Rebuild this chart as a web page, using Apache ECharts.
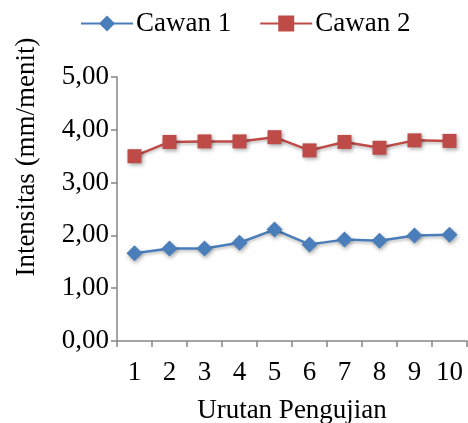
<!DOCTYPE html>
<html>
<head>
<meta charset="utf-8">
<script src="https://cdn.jsdelivr.net/npm/echarts@6/dist/echarts.min.js"></script>
<style>
  html, body { margin: 0; padding: 0; background: #fff; }
  #chart { width: 468px; height: 423px; }
</style>
</head>
<body>
<div id="chart"></div>
<script>
// data
var categories = ["1", "2", "3", "4", "5", "6", "7", "8", "9", "10"];
var cawan1 = [1.66, 1.75, 1.75, 1.86, 2.11, 1.83, 1.92, 1.90, 2.00, 2.01];
var cawan2 = [3.50, 3.77, 3.78, 3.78, 3.86, 3.61, 3.77, 3.66, 3.80, 3.79];
var yTicks = [0, 1, 2, 3, 4, 5];

(function() {
    var myChart = echarts.init(document.getElementById("chart"));
    var font = "Liberation Serif";
    var axisGray = "#868686";

    var option = {
        animation: false,
        textStyle: { fontFamily: font, color: "#000" },
        legend: {
            top: 5,
            left: 75,
            itemWidth: 52,
            itemHeight: 20,
            itemGap: 28,
            textStyle: { fontFamily: font, fontSize: 27, color: "#000", padding: [0, 0, 0, -2] },
            data: ["Cawan 1", "Cawan 2"]
        },
        grid: {
            left: 117,
            right: 1,
            top: 77,
            bottom: 82,
            outerBoundsMode: "none",
            containLabel: false
        },
        xAxis: {
            type: "category",
            data: categories,
            boundaryGap: true,
            name: "Urutan Pengujian",
            nameLocation: "middle",
            nameGap: 56,
            nameTextStyle: { fontFamily: font, fontSize: 27, color: "#000" },
            axisLine: { lineStyle: { color: axisGray, width: 1.5 } },
            axisTick: { show: true, length: 6, interval: 0, lineStyle: { color: axisGray, width: 1.5 } },
            axisLabel: { fontFamily: font, fontSize: 27, color: "#000", margin: 18, interval: 0 },
            splitLine: { show: false }
        },
        yAxis: {
            type: "value",
            min: yTicks[0],
            max: yTicks[yTicks.length - 1],
            interval: 1,
            name: "Intensitas (mm/menit)",
            nameLocation: "middle",
            nameGap: 77,
            nameTextStyle: { fontFamily: font, fontSize: 27, color: "#000", padding: [0, 0, 0, 104] },
            axisLine: { show: true, lineStyle: { color: axisGray, width: 1.5 } },
            axisTick: { show: true, length: 6, lineStyle: { color: axisGray, width: 1.5 } },
            axisLabel: {
                fontFamily: font, fontSize: 27, color: "#000", margin: 8,
                formatter: function(v) { return v.toFixed(2).replace(".", ","); }
            },
            splitLine: { show: false }
        },
        series: [{
            name: "Cawan 1",
            type: "line",
            data: cawan1,
            symbol: "diamond",
            symbolSize: 16,
            itemStyle: {
                color: "#4a7ebb",
                shadowBlur: 4,
                shadowColor: "rgba(0,0,0,0.35)",
                shadowOffsetX: 1,
                shadowOffsetY: 2
            },
            lineStyle: {
                color: "#4a7ebb",
                width: 2.5,
                shadowBlur: 3,
                shadowColor: "rgba(0,0,0,0.25)",
                shadowOffsetY: 2
            }
        }, {
            name: "Cawan 2",
            type: "line",
            data: cawan2,
            symbol: "rect",
            symbolSize: 14,
            itemStyle: {
                color: "#be4b48",
                shadowBlur: 4,
                shadowColor: "rgba(0,0,0,0.35)",
                shadowOffsetX: 1,
                shadowOffsetY: 2
            },
            lineStyle: {
                color: "#be4b48",
                width: 2.5,
                shadowBlur: 3,
                shadowColor: "rgba(0,0,0,0.25)",
                shadowOffsetY: 2
            }
        }]
    };

    myChart.setOption(option);
    window.addEventListener("resize", function() {
        myChart.resize();
    });
})();
</script>
</body>
</html>
